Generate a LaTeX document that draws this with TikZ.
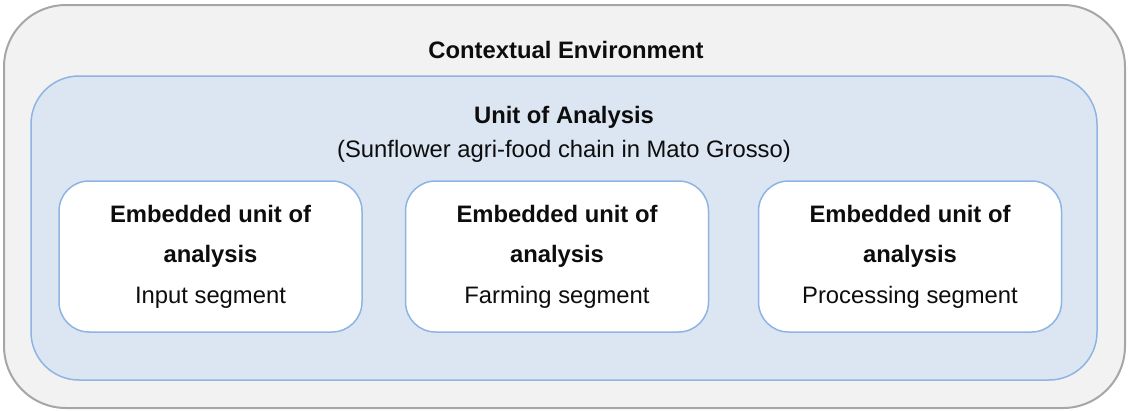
\documentclass[tikz,border=0pt]{standalone}
\usepackage{fontspec}
\setmainfont{Liberation Sans}
\definecolor{outerfill}{HTML}{F2F2F2}
\definecolor{outerline}{HTML}{A6A6A6}
\definecolor{innerfill}{HTML}{DCE6F2}
\definecolor{innerline}{HTML}{8EB4E3}
\definecolor{txt}{HTML}{0D0D0D}
\begin{document}
\begin{tikzpicture}[x=1pt,y=-1pt,
  outerbox/.style={draw=outerline,fill=outerfill,line width=2pt,rounded corners=62pt,minimum width=1121pt,minimum height=403pt,inner sep=0pt},
  innerbox/.style={draw=innerline,fill=innerfill,line width=1.5pt,rounded corners=48pt,minimum width=1066pt,minimum height=304pt,inner sep=0pt},
  segbox/.style={draw=innerline,fill=white,line width=1.5pt,rounded corners=30pt,minimum width=303pt,minimum height=151pt,inner sep=0pt},
  title/.style={anchor=base,inner sep=0pt,text=txt,font=\fontsize{23.8}{28}\selectfont\bfseries},
  plain/.style={anchor=base,inner sep=0pt,text=txt,font=\fontsize{23.8}{28}\selectfont}]
\useasboundingbox (0,0) rectangle (1129,410);
\node[outerbox] (outer) at (564.5,206.5) {};
\node[innerbox] (inner) at (564,228) {};
\node[title] (ctx) at (566,58) {Contextual Environment};
\node[title] (uoa) at (564,123) {Unit of Analysis};
\node[plain] (sub) at (564,157) {(Sunflower agri-food chain in Mato Grosso)};
\foreach \n/\x/\s in {b1/210.5/Input segment, b2/557/Farming segment, b3/910/Processing segment}{
  \node[segbox] (\n) at (\x,256.5) {};
  \node[title] (\n a) at (\x,222) {Embedded unit of};
  \node[title] (\n b) at (\x,262.5) {analysis};
  \node[plain] (\n c) at (\x,303) {\s};
}
\end{tikzpicture}
\end{document}
